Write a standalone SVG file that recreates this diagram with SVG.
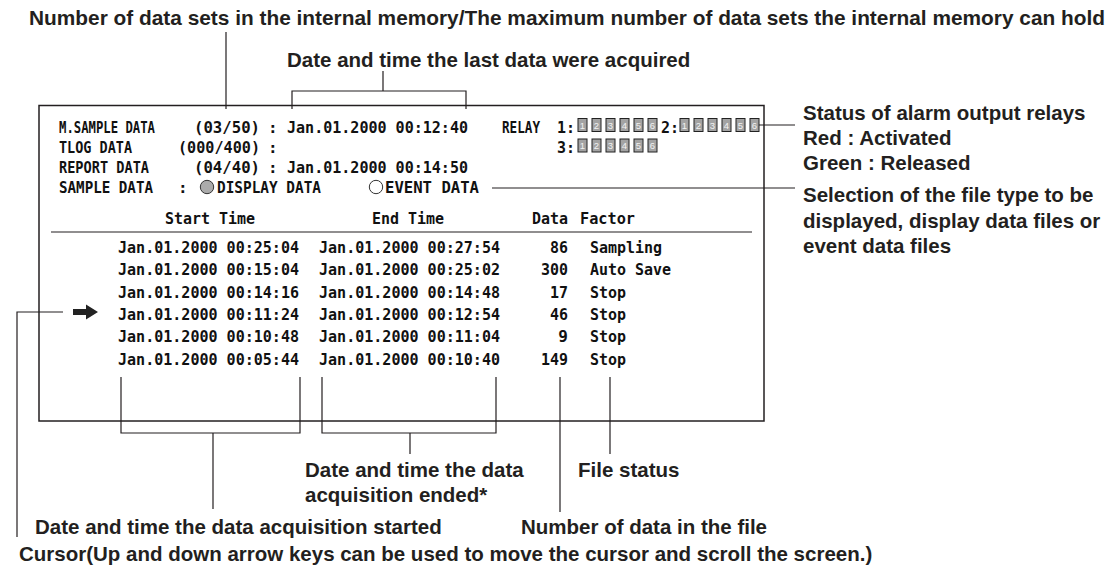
<svg xmlns="http://www.w3.org/2000/svg" width="1117" height="568" viewBox="0 0 1117 568">
<style>
.lbl{font-family:"Liberation Sans",Arial,sans-serif;font-weight:bold;font-size:20.5px;fill:#231f20}
.scr{font-family:"DejaVu Sans Mono","Liberation Mono",monospace;font-weight:bold;font-size:16px;fill:#111}
.ld{fill:none;stroke:#231f20;stroke-width:1.2}
.frame{fill:#fff;stroke:#231f20;stroke-width:1.5}
.rb{fill:#a3a3a3;stroke:#222;stroke-width:1}
.rd{font-family:"Liberation Sans",Arial,sans-serif;font-size:9.5px;fill:#f2f2f2;text-anchor:middle}
</style>
<defs>
<g id="relaySet">
<rect class="rb" x="0" y="0" width="9" height="13"/><text class="rd" x="4.5" y="10.2">1</text>
<rect class="rb" x="14" y="0" width="9" height="13"/><text class="rd" x="18.5" y="10.2">2</text>
<rect class="rb" x="28" y="0" width="9" height="13"/><text class="rd" x="32.5" y="10.2">3</text>
<rect class="rb" x="42" y="0" width="9" height="13"/><text class="rd" x="46.5" y="10.2">4</text>
<rect class="rb" x="56" y="0" width="9" height="13"/><text class="rd" x="60.5" y="10.2">5</text>
<rect class="rb" x="70" y="0" width="9" height="13"/><text class="rd" x="74.5" y="10.2">6</text>
</g>
</defs>
<rect width="1117" height="568" fill="#fff"/>

<g id="screen">
<rect class="frame" x="39" y="105.5" width="725" height="315.5"/>
<line class="ld" x1="51" y1="232" x2="752" y2="232"/>
</g>

<g id="screen-header" lengthAdjust="spacingAndGlyphs">
<text class="scr" x="59" y="133" textLength="96" lengthAdjust="spacingAndGlyphs">M.SAMPLE DATA</text>
<text class="scr" x="260" y="133" text-anchor="end" textLength="66" lengthAdjust="spacingAndGlyphs">(03/50)</text>
<text class="scr" x="268" y="133">:</text>
<text class="scr" x="287" y="133" textLength="181" lengthAdjust="spacingAndGlyphs">Jan.01.2000 00:12:40</text>
<text class="scr" x="59" y="153" textLength="73" lengthAdjust="spacingAndGlyphs">TLOG DATA</text>
<text class="scr" x="260" y="153" text-anchor="end" textLength="82" lengthAdjust="spacingAndGlyphs">(000/400)</text>
<text class="scr" x="268" y="153">:</text>
<text class="scr" x="59" y="173" textLength="90" lengthAdjust="spacingAndGlyphs">REPORT DATA</text>
<text class="scr" x="260" y="173" text-anchor="end" textLength="66" lengthAdjust="spacingAndGlyphs">(04/40)</text>
<text class="scr" x="268" y="173">:</text>
<text class="scr" x="287" y="173" textLength="181" lengthAdjust="spacingAndGlyphs">Jan.01.2000 00:14:50</text>
<text class="scr" x="59" y="193" textLength="94" lengthAdjust="spacingAndGlyphs">SAMPLE DATA</text>
<text class="scr" x="178" y="193">:</text>
<circle cx="207" cy="187" r="6.7" fill="#ababab" stroke="#333" stroke-width="1"/>
<text class="scr" x="217" y="193" textLength="104" lengthAdjust="spacingAndGlyphs">DISPLAY DATA</text>
<circle cx="376" cy="187" r="6.7" fill="#fff" stroke="#333" stroke-width="1"/>
<text class="scr" x="385" y="193" textLength="94" lengthAdjust="spacingAndGlyphs">EVENT DATA</text>
</g>

<g id="relays">
<text class="scr" x="502" y="133" textLength="38" lengthAdjust="spacingAndGlyphs">RELAY</text>
<text class="scr" x="557" y="133" textLength="18" lengthAdjust="spacingAndGlyphs">1:</text>
<use href="#relaySet" x="578" y="118.5"/>
<text class="scr" x="661" y="133" textLength="18" lengthAdjust="spacingAndGlyphs">2:</text>
<use href="#relaySet" x="680" y="118.5"/>
<text class="scr" x="557" y="153" textLength="18" lengthAdjust="spacingAndGlyphs">3:</text>
<use href="#relaySet" x="578" y="139"/>
</g>

<g id="table">
<text class="scr" x="165" y="224" textLength="90" lengthAdjust="spacingAndGlyphs">Start Time</text>
<text class="scr" x="372" y="224" textLength="72" lengthAdjust="spacingAndGlyphs">End Time</text>
<text class="scr" x="532" y="224" textLength="36" lengthAdjust="spacingAndGlyphs">Data</text>
<text class="scr" x="580" y="224" textLength="55" lengthAdjust="spacingAndGlyphs">Factor</text>
<g id="row1">
<text class="scr" x="118" y="253" textLength="181" lengthAdjust="spacingAndGlyphs">Jan.01.2000 00:25:04</text>
<text class="scr" x="319" y="253" textLength="181" lengthAdjust="spacingAndGlyphs">Jan.01.2000 00:27:54</text>
<text class="scr" x="568" y="253" text-anchor="end" textLength="18" lengthAdjust="spacingAndGlyphs">86</text>
<text class="scr" x="590" y="253" textLength="72" lengthAdjust="spacingAndGlyphs">Sampling</text>
</g>
<g id="row2">
<text class="scr" x="118" y="275.3" textLength="181" lengthAdjust="spacingAndGlyphs">Jan.01.2000 00:15:04</text>
<text class="scr" x="319" y="275.3" textLength="181" lengthAdjust="spacingAndGlyphs">Jan.01.2000 00:25:02</text>
<text class="scr" x="568" y="275.3" text-anchor="end" textLength="27" lengthAdjust="spacingAndGlyphs">300</text>
<text class="scr" x="590" y="275.3" textLength="81" lengthAdjust="spacingAndGlyphs">Auto Save</text>
</g>
<g id="row3">
<text class="scr" x="118" y="297.6" textLength="181" lengthAdjust="spacingAndGlyphs">Jan.01.2000 00:14:16</text>
<text class="scr" x="319" y="297.6" textLength="181" lengthAdjust="spacingAndGlyphs">Jan.01.2000 00:14:48</text>
<text class="scr" x="568" y="297.6" text-anchor="end" textLength="18" lengthAdjust="spacingAndGlyphs">17</text>
<text class="scr" x="590" y="297.6" textLength="36" lengthAdjust="spacingAndGlyphs">Stop</text>
</g>
<g id="row4">
<polygon points="73,309 86,309 86,304.5 98,312 86,319.5 86,315 73,315" fill="#222"/>
<text class="scr" x="118" y="319.9" textLength="181" lengthAdjust="spacingAndGlyphs">Jan.01.2000 00:11:24</text>
<text class="scr" x="319" y="319.9" textLength="181" lengthAdjust="spacingAndGlyphs">Jan.01.2000 00:12:54</text>
<text class="scr" x="568" y="319.9" text-anchor="end" textLength="18" lengthAdjust="spacingAndGlyphs">46</text>
<text class="scr" x="590" y="319.9" textLength="36" lengthAdjust="spacingAndGlyphs">Stop</text>
</g>
<g id="row5">
<text class="scr" x="118" y="342.2" textLength="181" lengthAdjust="spacingAndGlyphs">Jan.01.2000 00:10:48</text>
<text class="scr" x="319" y="342.2" textLength="181" lengthAdjust="spacingAndGlyphs">Jan.01.2000 00:11:04</text>
<text class="scr" x="568" y="342.2" text-anchor="end">9</text>
<text class="scr" x="590" y="342.2" textLength="36" lengthAdjust="spacingAndGlyphs">Stop</text>
</g>
<g id="row6">
<text class="scr" x="118" y="364.5" textLength="181" lengthAdjust="spacingAndGlyphs">Jan.01.2000 00:05:44</text>
<text class="scr" x="319" y="364.5" textLength="181" lengthAdjust="spacingAndGlyphs">Jan.01.2000 00:10:40</text>
<text class="scr" x="568" y="364.5" text-anchor="end" textLength="27" lengthAdjust="spacingAndGlyphs">149</text>
<text class="scr" x="590" y="364.5" textLength="36" lengthAdjust="spacingAndGlyphs">Stop</text>
</g>
</g>

<g id="connectors">
<path class="ld" d="M226 32V109"/>
<path class="ld" d="M383 71V91M292 109V91H466V109"/>
<path class="ld" d="M759 125H795"/>
<path class="ld" d="M492 188H795"/>
<path class="ld" d="M121 377V433H300V377M213 433V509"/>
<path class="ld" d="M322 377V433H496V377M410 433V454"/>
<path class="ld" d="M560 377V512"/>
<path class="ld" d="M610 377V454"/>
<path class="ld" d="M63 312H17V537"/>
</g>

<g id="label-memory"><text class="lbl" x="29" y="25" textLength="1076" lengthAdjust="spacingAndGlyphs">Number of data sets in the internal memory/The maximum number of data sets the internal memory can hold</text></g>
<g id="label-last"><text class="lbl" x="287" y="67">Date and time the last data were acquired</text></g>
<g id="label-relays">
<text class="lbl" x="803" y="120">Status of alarm output relays</text>
<text class="lbl" x="803" y="145">Red : Activated</text>
<text class="lbl" x="803" y="170">Green : Released</text>
</g>
<g id="label-selection">
<text class="lbl" x="803" y="202">Selection of the file type to be</text>
<text class="lbl" x="803" y="228">displayed, display data files or</text>
<text class="lbl" x="803" y="253">event data files</text>
</g>
<g id="label-ended">
<text class="lbl" x="305" y="477">Date and time the data</text>
<text class="lbl" x="305" y="502">acquisition ended*</text>
</g>
<g id="label-status"><text class="lbl" x="578" y="477">File status</text></g>
<g id="label-started"><text class="lbl" x="35" y="534">Date and time the data acquisition started</text></g>
<g id="label-number"><text class="lbl" x="521" y="534">Number of data in the file</text></g>
<g id="label-cursor"><text class="lbl" x="19" y="561">Cursor(Up and down arrow keys can be used to move the cursor and scroll the screen.)</text></g>
</svg>
